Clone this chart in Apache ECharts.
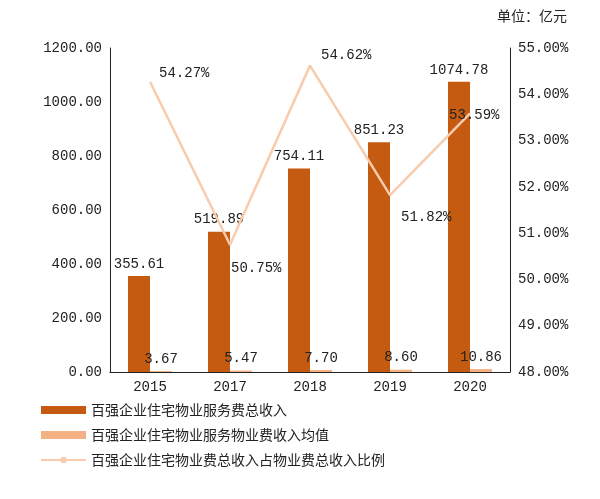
<!DOCTYPE html>
<html><head><meta charset="utf-8">
<script src="https://cdn.jsdelivr.net/npm/echarts@6/dist/echarts.min.js"></script>
<style>html,body{margin:0;padding:0;background:#fff}#c{width:600px;height:499px}</style>
</head><body><div id="c"></div>
<script>
const categories = ['2015','2017','2018','2019','2020'];
const totalIncome = [355.61, 519.89, 754.11, 851.23, 1074.78];
const avgIncome = [3.67, 5.47, 7.70, 8.60, 10.86];
const ratio = [54.27, 50.75, 54.62, 51.82, 53.59];
const seriesNames = ['百强企业住宅物业服务费总收入','百强企业住宅物业服务物业费收入均值','百强企业住宅物业费总收入占物业费总收入比例'];
const lineLabelPos = [[4,-8],[-4,24],[6,-10],[6,22],[-26,2]];
const font = '"Liberation Mono", "Noto Sans CJK SC", monospace';
const cjk = '"Noto Sans CJK SC", sans-serif';
const chart = echarts.init(document.getElementById('c'));
chart.setOption({
  animation:false,
  textStyle:{fontFamily:font,color:'#222'},
  title:{text:'单位：亿元',right:28,top:4,textStyle:{fontSize:14,fontWeight:'normal',color:'#222',fontFamily:cjk}},
  grid:{left:110,right:90,top:48,bottom:127},
  legend:{orient:'vertical',left:35,top:398,itemGap:11,itemWidth:45,itemHeight:8,
    textStyle:{fontSize:14,color:'#222',fontFamily:cjk},
    data:[{name:seriesNames[0],icon:'rect'},{name:seriesNames[1],icon:'rect'},{name:seriesNames[2]}]},
  xAxis:{type:'category',data:categories,axisLine:{lineStyle:{color:'#222'}},axisTick:{show:false},
    axisLabel:{fontSize:14,color:'#222',margin:8}},
  yAxis:[
    {type:'value',min:0,max:1200,interval:200,splitLine:{show:false},
     axisLine:{show:true,lineStyle:{color:'#222'}},axisTick:{show:false},
     axisLabel:{formatter:v=>v.toFixed(2),fontSize:14,color:'#222'}},
    {type:'value',min:48,max:55,interval:1,splitLine:{show:false},
     axisLine:{show:true,lineStyle:{color:'#222'}},axisTick:{show:false},
     axisLabel:{formatter:v=>v.toFixed(2)+'%',fontSize:14,color:'#222'}}
  ],
  series:[
    {name:seriesNames[0],type:'bar',data:totalIncome,barWidth:22,barGap:'0%',itemStyle:{color:'#C55A11'},
     label:{show:true,position:'top',fontSize:14,color:'#222',formatter:p=>p.value.toFixed(2)}},
    {name:seriesNames[1],type:'bar',data:avgIncome,barWidth:22,itemStyle:{color:'#F4B183'},
     label:{show:true,position:'top',fontSize:14,color:'#222',formatter:p=>p.value.toFixed(2)}},
    {name:seriesNames[2],type:'line',yAxisIndex:1,data:ratio.map((v,i)=>({value:v,label:{offset:lineLabelPos[i]}})),
     symbol:'circle',symbolSize:0.1,showSymbol:true,lineStyle:{color:'#F8CBAD',width:2.5},itemStyle:{color:'#F8CBAD'},
     label:{show:true,position:'right',fontSize:14,color:'#222',formatter:p=>p.value.toFixed(2)+'%'}}
  ]
});
</script></body></html>
